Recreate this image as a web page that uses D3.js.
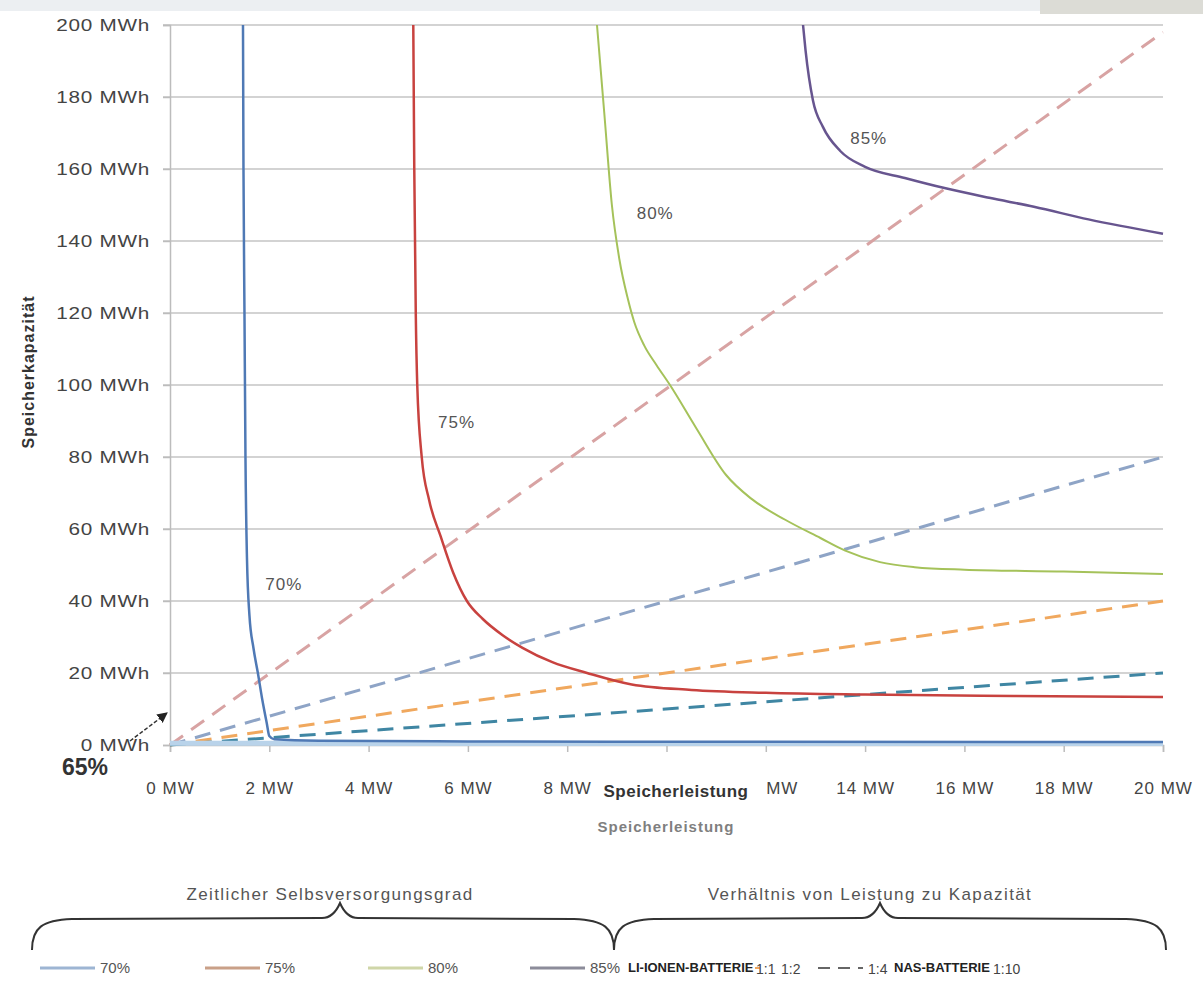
<!DOCTYPE html>
<html>
<head>
<meta charset="utf-8">
<script src="https://cdn.jsdelivr.net/npm/d3@7"></script>
<style>
  body { margin: 0; background: #fff; }
  svg { display: block; }
  text { font-family: "Liberation Sans", Arial, sans-serif; }
</style>
</head>
<body>
<div class="chart"></div>
<script>
"use strict"

// ---- data (MW -> MWh) ----
const xTicks = [0, 2, 4, 6, 8, 10, 12, 14, 16, 18, 20];
const yTicks = [0, 20, 40, 60, 80, 100, 120, 140, 160, 180, 200];

const power65 = [0, 2, 5, 10, 20];
const cap65   = [0.5, 0.5, 0.4, 0.4, 0.4];

const power70 = [1.47, 1.48, 1.5, 1.52, 1.55, 1.6, 1.68, 1.77, 1.86, 1.95, 2.0, 2.1, 3, 6, 10, 20];
const cap70   = [200, 160, 120, 80, 52, 36, 27, 20, 12.5, 6, 2.5, 1.6, 1.2, 1.0, 0.9, 0.8];

const power75 = [4.9, 4.92, 4.95, 4.98, 5.07, 5.22, 5.45, 5.7, 5.98, 6.3, 6.7, 7.1, 7.7, 8.4, 9.3, 10.5, 12, 14, 17, 20];
const cap75   = [200, 160, 120, 100, 80, 68, 58, 48, 40, 35, 30.5, 27, 23, 20, 16.8, 15.3, 14.5, 14, 13.6, 13.3];

const power80 = [8.6, 8.75, 8.9, 9.05, 9.22, 9.35, 9.55, 9.8, 10.07, 10.6, 11.2, 11.7, 12.4, 13.1, 13.6, 14.3, 15, 16, 18, 20];
const cap80   = [200, 175, 150, 135, 124, 117.5, 111, 105.5, 100, 88, 75, 68.5, 62.5, 57.5, 54, 50.8, 49.4, 48.7, 48.2, 47.5];

const power85 = [12.75, 12.8, 12.95, 13.15, 13.5, 14, 14.8, 15.6, 16.5, 17.4, 18.5, 20];
const cap85   = [200, 193, 179, 171.7, 165, 160.6, 157.5, 154.7, 152, 149.5, 146, 142];

const ratioPower = [0, 20];
const cap1to1  = [0, 20];
const cap1to2  = [0, 40];
const cap1to4  = [0, 80];
const cap1to10 = [0, 198];

const curves = [
  { name: "65%", px: power65, cy: cap65, color: "#b9d3ea", w: 5 },
  { name: "70%", px: power70, cy: cap70, color: "#4f79b5", w: 2.5 },
  { name: "75%", px: power75, cy: cap75, color: "#c8423f", w: 2.5 },
  { name: "80%", px: power80, cy: cap80, color: "#a5c25a", w: 2 },
  { name: "85%", px: power85, cy: cap85, color: "#67558f", w: 2.5 }
];
const ratios = [
  { name: "1:10", px: ratioPower, cy: cap1to10, color: "#d8a3a3" },
  { name: "1:4",  px: ratioPower, cy: cap1to4,  color: "#8ea4c6" },
  { name: "1:2",  px: ratioPower, cy: cap1to2,  color: "#f0a85e" },
  { name: "1:1",  px: ratioPower, cy: cap1to1,  color: "#3f86a3" }
];

const W = 1203, H = 981;
const pLeft = 170, pRight = 1163, pTop = 25, pBottom = 745;

const s = d3.select(".chart").append("svg")
  .attr("width", W)
  .attr("height", H);

// faint band at the very top
s.append("rect").attr("x", 0).attr("y", 0).attr("width", W).attr("height", 11).attr("fill", "#eceff2");
s.append("rect").attr("x", 1040).attr("y", 0).attr("width", 163).attr("height", 14).attr("fill", "#dcdcd6");

const x = d3.scaleLinear().domain([0, 20]).range([pLeft, pRight]);
const y = d3.scaleLinear().domain([0, 200]).range([pBottom, pTop]);

// horizontal grid
s.append("g").selectAll("line")
  .data(yTicks.filter(function(d) { return d > 0; }))
  .enter()
  .append("line")
  .attr("x1", pLeft - 7)
  .attr("x2", pRight)
  .attr("y1", function(d) { return y(d); })
  .attr("y2", function(d) { return y(d); })
  .attr("stroke", "#c4c4c4")
  .attr("stroke-width", 1.5);

// axes
let ya = s.append("g")
  .attr("transform", "translate(" + pLeft + ",0)")
  .call(d3.axisLeft(y).tickValues(yTicks).tickSize(7).tickPadding(13)
    .tickFormat(function(d) { return d + " MWh"; }));
// the bold axis title hides the 10 MW label and the front of 12 MW
let xa = s.append("g")
  .attr("transform", "translate(0," + pBottom + ")")
  .call(d3.axisBottom(x).tickValues(xTicks).tickSize(7).tickPadding(30)
    .tickFormat(function(d) {
      if (d === 10) return "";
      if (d === 12) return "MW";
      return d + " MW";
    }));

[ya, xa].forEach(function(a) {
  a.selectAll("path, line").attr("stroke", "#bcbcbc").attr("stroke-width", 1.5);
  a.selectAll("text").attr("fill", "#444");
});
// y labels are drawn wide in the original
ya.selectAll("text")
  .style("font-size", "17px")
  .style("letter-spacing", "0.6px")
  .attr("x", -20 / 1.22)
  .attr("transform", "scale(1.22,1)");
xa.selectAll("text").style("font-size", "17px").style("letter-spacing", "1px");
xa.selectAll(".tick text").filter(function(d) { return d === 12; }).attr("dx", 16);

// ratio lines (dashed)
const line = d3.line()
  .x(function(d) { return x(d[0]); })
  .y(function(d) { return y(d[1]); });

s.append("g").selectAll("path")
  .data(ratios)
  .enter()
  .append("path")
  .attr("d", function(d) { return line(d3.zip(d.px, d.cy)); })
  .attr("fill", "none")
  .attr("stroke", function(d) { return d.color; })
  .attr("stroke-width", 3)
  .attr("stroke-dasharray", "16,10");

// self-supply curves
const curveX = d3.line()
  .x(function(d) { return x(d[0]); })
  .y(function(d) { return y(d[1]); })
  .curve(d3.curveMonotoneX);

s.append("g").selectAll("path")
  .data(curves)
  .enter()
  .append("path")
  .attr("d", function(d) { return curveX(d3.zip(d.px, d.cy)); })
  .attr("fill", "none")
  .attr("stroke", function(d) { return d.color; })
  .attr("stroke-width", function(d) { return d.w; });

// curve labels
const curveLabels = [
  { t: "70%", px: 1.92, cy: 43 },
  { t: "75%", px: 5.4, cy: 88 },
  { t: "80%", px: 9.4, cy: 146 },
  { t: "85%", px: 13.7, cy: 167 }
];
s.append("g").selectAll("text")
  .data(curveLabels)
  .enter()
  .append("text")
  .attr("x", function(d) { return x(d.px); })
  .attr("y", function(d) { return y(d.cy); })
  .attr("fill", "#555")
  .style("font-size", "17px")
  .style("letter-spacing", "1px")
  .text(function(d) { return d.t; });

// 65% label with arrow
s.append("defs").append("marker")
  .attr("id", "ah").attr("viewBox", "0 0 10 10")
  .attr("refX", 9).attr("refY", 5)
  .attr("markerWidth", 7).attr("markerHeight", 7)
  .attr("orient", "auto")
  .append("path").attr("d", "M0,0 L10,5 L0,10 z").attr("fill", "#222");
s.append("line")
  .attr("x1", 130).attr("y1", 741)
  .attr("x2", 167).attr("y2", 713)
  .attr("stroke", "#333").attr("stroke-width", 1.5)
  .attr("stroke-dasharray", "4,2")
  .attr("marker-end", "url(#ah)");
s.append("text")
  .attr("x", 62).attr("y", 775)
  .attr("fill", "#333")
  .style("font-size", "23px")
  .style("font-weight", "bold")
  .text("65%");

// axis titles
s.append("rect").attr("x", 593).attr("y", 775).attr("width", 166).attr("height", 30).attr("fill", "#fff");
s.append("text")
  .attr("x", 676).attr("y", 797)
  .attr("text-anchor", "middle")
  .attr("fill", "#333")
  .style("font-size", "17px").style("font-weight", "bold")
  .style("letter-spacing", "0.5px")
  .text("Speicherleistung");
s.append("text")
  .attr("x", 666).attr("y", 832)
  .attr("text-anchor", "middle")
  .attr("fill", "#555").attr("opacity", 0.75)
  .style("font-size", "15px").style("font-weight", "bold")
  .style("letter-spacing", "1px")
  .text("Speicherleistung");
s.append("text")
  .attr("transform", "translate(34,372) rotate(-90)")
  .attr("text-anchor", "middle")
  .attr("fill", "#333")
  .style("font-size", "16px").style("font-weight", "bold")
  .style("letter-spacing", "1px")
  .text("Speicherkapazität");

// braces and group titles
const groups = [
  { t: "Zeitlicher Selbsversorgungsgrad", x0: 32, x1: 614, mid: 340 },
  { t: "Verhältnis von Leistung zu Kapazität", x0: 614, x1: 1166, mid: 880 }
];
s.append("g").selectAll("path")
  .data(groups)
  .enter()
  .append("path")
  .attr("d", function(d) {
    return "M" + d.x0 + ",950 C" + d.x0 + ",928 " + (d.x0 + 10) + ",920 " + (d.x0 + 40) + ",919" +
      " L" + (d.mid - 18) + ",918 C" + (d.mid - 8) + ",918 " + (d.mid - 3) + ",910 " + d.mid + ",903" +
      " C" + (d.mid + 3) + ",910 " + (d.mid + 8) + ",918 " + (d.mid + 18) + ",918" +
      " L" + (d.x1 - 40) + ",919 C" + (d.x1 - 10) + ",920 " + d.x1 + ",928 " + d.x1 + ",950";
  })
  .attr("fill", "none")
  .attr("stroke", "#333")
  .attr("stroke-width", 2);
s.append("g").selectAll("text")
  .data(groups)
  .enter()
  .append("text")
  .attr("x", function(d) { return d.mid - 10; })
  .attr("y", 900)
  .attr("text-anchor", "middle")
  .attr("fill", "#555")
  .style("font-size", "17px")
  .style("letter-spacing", "1.4px")
  .text(function(d) { return d.t; });

// legend
const legY = 968;
const legSolid = [
  { name: "70%", x0: 40, color: "#9db5d3" },
  { name: "75%", x0: 205, color: "#c9a088" },
  { name: "80%", x0: 368, color: "#cfd6a8" },
  { name: "85%", x0: 530, color: "#8c8c9a" }
];
const legDash = [
  { name: "1:1", x0: 640, color: "#3f86a3" },
  { name: "1:2", x0: 715, color: "#f0a85e" },
  { name: "1:4", x0: 818, color: "#8ea4c6" },
  { name: "1:10", x0: 905, color: "#d8a3a3" }
];
let lg = s.append("g");
lg.selectAll("line.s")
  .data(legSolid)
  .enter()
  .append("line")
  .attr("x1", function(d) { return d.x0; })
  .attr("x2", function(d) { return d.x0 + 55; })
  .attr("y1", legY).attr("y2", legY)
  .attr("stroke", function(d) { return d.color; })
  .attr("stroke-width", 3);
lg.selectAll("text.s")
  .data(legSolid)
  .enter()
  .append("text")
  .attr("x", function(d) { return d.x0 + 60; })
  .attr("y", legY + 5)
  .attr("fill", "#555")
  .style("font-size", "15px")
  .text(function(d) { return d.name; });
lg.selectAll("line.d")
  .data(legDash)
  .enter()
  .append("line")
  .attr("x1", function(d) { return d.x0; })
  .attr("x2", function(d) { return d.x0 + 45; })
  .attr("y1", legY).attr("y2", legY)
  .attr("stroke", function(d) { return d.name === "1:4" ? "#666" : d.color; })
  .attr("stroke-width", 2)
  .attr("stroke-dasharray", "12,8");

// bold battery labels lie over part of the legend
const batt = [
  { t: "LI-IONEN-BATTERIE", x0: 626, w: 128 },
  { t: "NAS-BATTERIE", x0: 892, w: 100 }
];
lg.selectAll("rect")
  .data(batt)
  .enter()
  .append("rect")
  .attr("x", function(d) { return d.x0; })
  .attr("y", legY - 14)
  .attr("width", function(d) { return d.w; })
  .attr("height", 24)
  .attr("fill", "#fff");
lg.selectAll("text.b")
  .data(batt)
  .enter()
  .append("text")
  .attr("x", function(d) { return d.x0 + 2; })
  .attr("y", legY + 4)
  .attr("fill", "#222")
  .style("font-size", "13px")
  .style("font-weight", "bold")
  .text(function(d) { return d.t; });

const legDashText = [
  { name: "1:1", x: 756 },
  { name: "1:2", x: 781 },
  { name: "1:4", x: 868 },
  { name: "1:10", x: 993 }
];
lg.selectAll("text.d")
  .data(legDashText)
  .enter()
  .append("text")
  .attr("x", function(d) { return d.x; })
  .attr("y", legY + 6)
  .attr("fill", "#444")
  .style("font-size", "14px")
  .text(function(d) { return d.name; });
</script>
</body>
</html>
